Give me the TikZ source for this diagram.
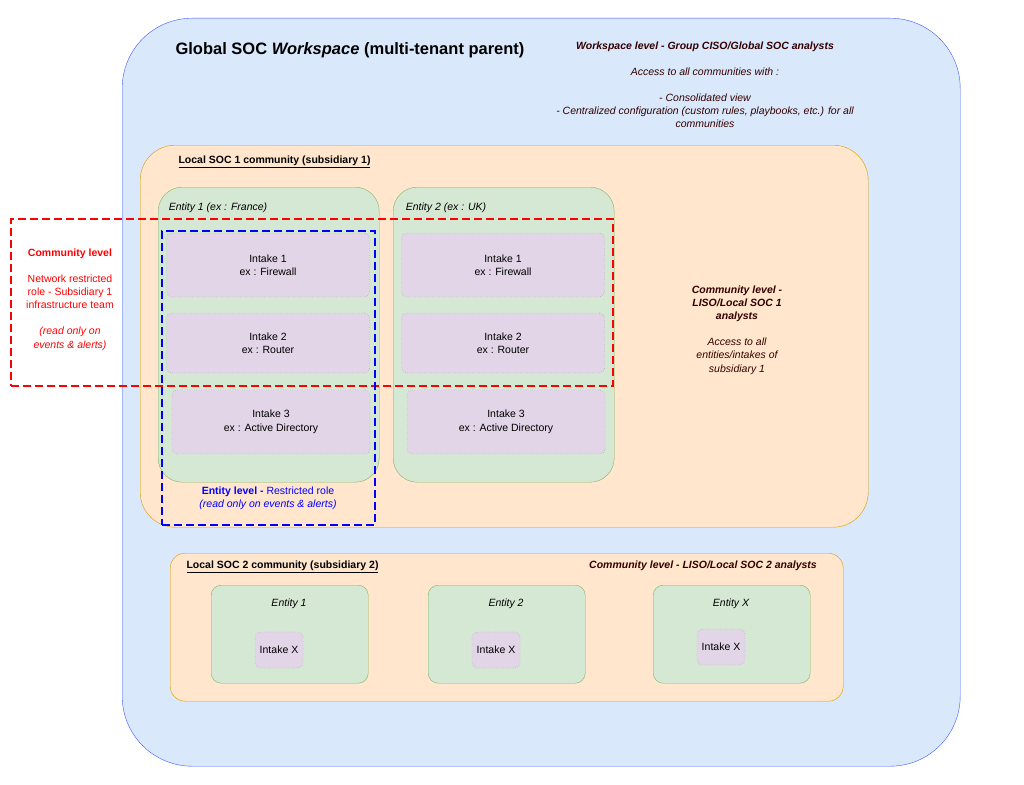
\documentclass[tikz,border=0pt]{standalone}
\usepackage{fontspec}
\setmainfont{Liberation Sans}
\usetikzlibrary{positioning}
\definecolor{wsfill}{HTML}{DAE8FC}
\definecolor{wsline}{HTML}{3D5AFE}
\definecolor{comfill}{HTML}{FFE6CC}
\definecolor{comline}{HTML}{D79B00}
\definecolor{entfill}{HTML}{D5E8D4}
\definecolor{entline}{HTML}{82B366}
\definecolor{intfill}{HTML}{E1D5E7}
\definecolor{darkred}{HTML}{330000}
\tikzset{
	box/.style={draw, anchor=north west, inner sep=0pt},
	workspace/.style={box, fill=wsfill, draw=wsline, rounded corners=70pt},
	community/.style={box, fill=comfill, draw=comline, rounded corners=35pt},
	entity/.style={box, fill=entfill, draw=entline, rounded corners=24pt},
	intake/.style={box, fill=intfill, draw=gray, dotted, rounded corners=5pt, align=center, anchor=center, font=\fontsize{10.5}{13.5}\selectfont},
	note/.style={align=center, font=\fontsize{10.5}{13.2}\selectfont},
	zone/.style={draw, dashed, line width=2pt, dash pattern=on 8pt off 4pt},
}
\begin{document}
\begin{tikzpicture}[x=1pt, y=-1pt]
	\useasboundingbox (0,0) rectangle (1024,784);
	\node (ws) at (122,18) [workspace, minimum width=838pt, minimum height=748pt] {};
	\node (wstitle) at (350,50) [font=\fontsize{16.5}{18}\selectfont\bfseries] {Global SOC \textit{Workspace} (multi-tenant parent)};
	\node (wsnote) at (705,38) [note, anchor=north, text=darkred, font=\fontsize{10.5}{13.2}\selectfont\itshape] {\textbf{Workspace level - Group CISO/Global SOC analysts}\\[13pt]Access to all communities with :\\[13pt]- Consolidated view\\- Centralized configuration (custom rules, playbooks, etc.) for all\\communities};
	% local soc 1
	\node (soc1) at (140,145) [community, minimum width=728pt, minimum height=382pt] {};
	\node (soc1lbl) at (175,162) [anchor=west, font=\fontsize{10.5}{12}\selectfont\bfseries] {\underline{Local SOC 1 community (subsidiary 1)}};
	\node (ent1) at (158,187) [entity, minimum width=221pt, minimum height=295pt] {};
	\node (ent2) at (393,187) [entity, minimum width=221pt, minimum height=295pt] {};
	\node (ent1lbl) at (218,208) [font=\fontsize{10.5}{12}\selectfont\itshape] {Entity 1 (ex : France)};
	\node (ent2lbl) at (446,208) [font=\fontsize{10.5}{12}\selectfont\itshape] {Entity 2 (ex : UK)};
	\foreach \ox/\n in {0/a,235/b}{
		\node (int1\n) at (268+\ox,265) [intake, minimum width=203pt, minimum height=64pt] {Intake 1\\ex : Firewall};
		\node (int2\n) at (268+\ox,343) [intake, minimum width=203pt, minimum height=60pt] {Intake 2\\ex : Router};
		\node (int3\n) at (271+\ox,422) [intake, minimum width=198pt, minimum height=64pt] {Intake 3\\ex : Active Directory};
	}
	\node (comnote1) at (737,282) [note, anchor=north, text=darkred, font=\fontsize{10.5}{13.2}\selectfont\itshape] {\textbf{Community level -}\\\textbf{LISO/Local SOC 1}\\\textbf{analysts}\\[13pt]Access to all\\entities/intakes of\\subsidiary 1};
	% restricted zones
	\node (redzone) at (10,218) [box, zone, draw=red, minimum width=602pt, minimum height=167pt] {};
	\node (rednote) at (70,245) [note, anchor=north, text=red] {\textbf{Community level}\\[13pt]Network restricted\\role - Subsidiary 1\\infrastructure team\\[13pt]\textit{(read only on}\\\textit{events \& alerts)}};
	\node (bluezone) at (161,230) [box, zone, draw=blue, minimum width=213pt, minimum height=294pt] {};
	\node (bluenote) at (268,498) [note, text=blue] {\textbf{Entity level -} Restricted role\\\textit{(read only on events \& alerts)}};
	% local soc 2
	\node (soc2) at (170,553) [community, minimum width=673pt, minimum height=148pt, rounded corners=15pt] {};
	\node (soc2lbl) at (183,567) [anchor=west, font=\fontsize{10.5}{12}\selectfont\bfseries] {\underline{Local SOC 2 community (subsidiary 2)}};
	\node (comnote2) at (703,566) [text=darkred, font=\fontsize{10.5}{12}\selectfont\bfseries\itshape] {Community level - LISO/Local SOC 2 analysts};
	\foreach \ex/\iy/\t in {211/650/1,428/650/2,653/647/X}{
		\node (ent\t) at (\ex,585) [entity, minimum width=157pt, minimum height=98pt, rounded corners=10pt] {};
		\node (ent\t lbl) at (\ex+78,604) [font=\fontsize{10.5}{12}\selectfont\itshape] {Entity \t};
		\node (intX\t) at (\ex+68,\iy) [intake, minimum width=48pt, minimum height=36pt] {Intake X};
	}
\end{tikzpicture}
\end{document}
